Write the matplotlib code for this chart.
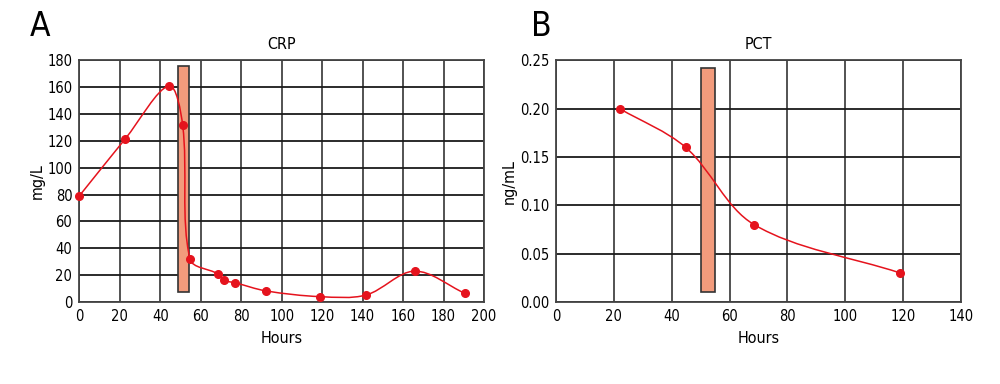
import numpy as np
import matplotlib.pyplot as plt
from matplotlib.path import Path
from matplotlib.patches import PathPatch, Rectangle

# CRP data (hours, mg/L)
crp_hours = [0, 22.7, 44.3, 51.1, 54.7, 68.4, 71.4, 77.1, 92.2, 119, 141.7, 165.7, 190.5]
crp_vals = [79, 121.5, 161, 131.5, 32, 21, 16.2, 14.3, 8.3, 4, 5.2, 23, 6.5]
crp_bar = (49, 54, 7.5, 176)  # x0, x1, y0, y1

# PCT data (hours, ng/mL)
pct_hours = [22, 44.8, 68.5, 119]
pct_vals = [0.200, 0.160, 0.080, 0.030]
pct_bar = (50, 55, 0.01, 0.242)

plt.rcParams['font.family'] = ['Liberation Sans Narrow', 'DejaVu Sans']
plt.rcParams['font.stretch'] = 'condensed'

red = '#e5131d'

def smooth_path(ax, x, y):  # smoothed line, tangents scaled by neighbouring segment lengths
    pos = ax.get_position()
    W, H = pos.width * 1000, pos.height * 384
    x0, x1 = ax.get_xlim()
    y0, y1 = ax.get_ylim()
    sx, sy = W / (x1 - x0), H / (y1 - y0)
    p = np.column_stack([np.asarray(x) * sx, np.asarray(y) * sy])
    n = len(p)
    d = np.hypot(*(p[1:] - p[:-1]).T)
    verts = [p[0]]
    codes = [Path.MOVETO]
    for i in range(n - 1):
        a = p[max(i - 1, 0)]
        b = p[min(i + 2, n - 1)]
        dp = d[i - 1] if i > 0 else d[i]
        dn = d[i + 1] if i < n - 2 else d[i]
        t1 = (p[i + 1] - a) * d[i] / (dp + d[i]) / 3
        t2 = (b - p[i]) * d[i] / (d[i] + dn) / 3
        if i == 0:
            t1 = (p[1] - p[0]) / 3
        if i == n - 2:
            t2 = (p[-1] - p[-2]) / 3
        verts += [p[i] + t1, p[i + 1] - t2, p[i + 1]]
        codes += [Path.CURVE4] * 3
    v = np.array(verts) / [sx, sy]
    return Path(v, codes)

def panel(ax, x, y, bar, xlim, ylim, xticks, yticks, ylab, title, fmt):
    ax.set_xlim(xlim)
    ax.set_ylim(ylim)
    ax.set_xticks(xticks)
    ax.set_yticks(yticks)
    ax.set_yticklabels([fmt(v) for v in yticks])
    ax.grid(True, axis='y', color='#1a1a1a', linewidth=1.3)
    ax.grid(True, axis='x', color='#444444', linewidth=1.3)
    ax.set_axisbelow(True)
    for s in ax.spines.values():
        s.set_color('#444444')
        s.set_linewidth(1.3)
    ax.tick_params(length=0, labelsize=10.5, pad=5)
    ax.add_patch(Rectangle((bar[0], bar[2]), bar[1] - bar[0], bar[3] - bar[2],
                           facecolor='#f29b7c', edgecolor='#333333', linewidth=1.2, zorder=3))
    ax.add_patch(PathPatch(smooth_path(ax, x, y), facecolor='none', edgecolor=red,
                           linewidth=1.1, zorder=4, clip_on=False))
    ax.plot(x, y, 'o', color=red, markersize=5.5, zorder=5, clip_on=False)
    ax.set_xlabel('Hours', fontsize=11.5, labelpad=5)
    ax.set_ylabel(ylab, fontsize=11.5, labelpad=2)
    ax.set_title(title, fontsize=11.5, pad=8)

fig = plt.figure(figsize=(10, 3.84), dpi=100)
ax1 = fig.add_axes([0.0793, 0.2135, 0.4047, 0.6295])
ax2 = fig.add_axes([0.556, 0.2135, 0.405, 0.6295])

panel(ax1, crp_hours, crp_vals, crp_bar, (0, 200), (0, 180), range(0, 201, 20),
      list(range(0, 181, 20)), 'mg/L', 'CRP', lambda v: '%d' % v)
panel(ax2, pct_hours, pct_vals, pct_bar, (0, 140), (0, 0.25), range(0, 141, 20),
      [0, 0.05, 0.10, 0.15, 0.20, 0.25], 'ng/mL', 'PCT', lambda v: '%.2f' % v)

fig.text(0.040, 0.93, 'A', fontsize=24, ha='center', va='center')
fig.text(0.541, 0.93, 'B', fontsize=24, ha='center', va='center')

fig.savefig('out.png', dpi=100)
